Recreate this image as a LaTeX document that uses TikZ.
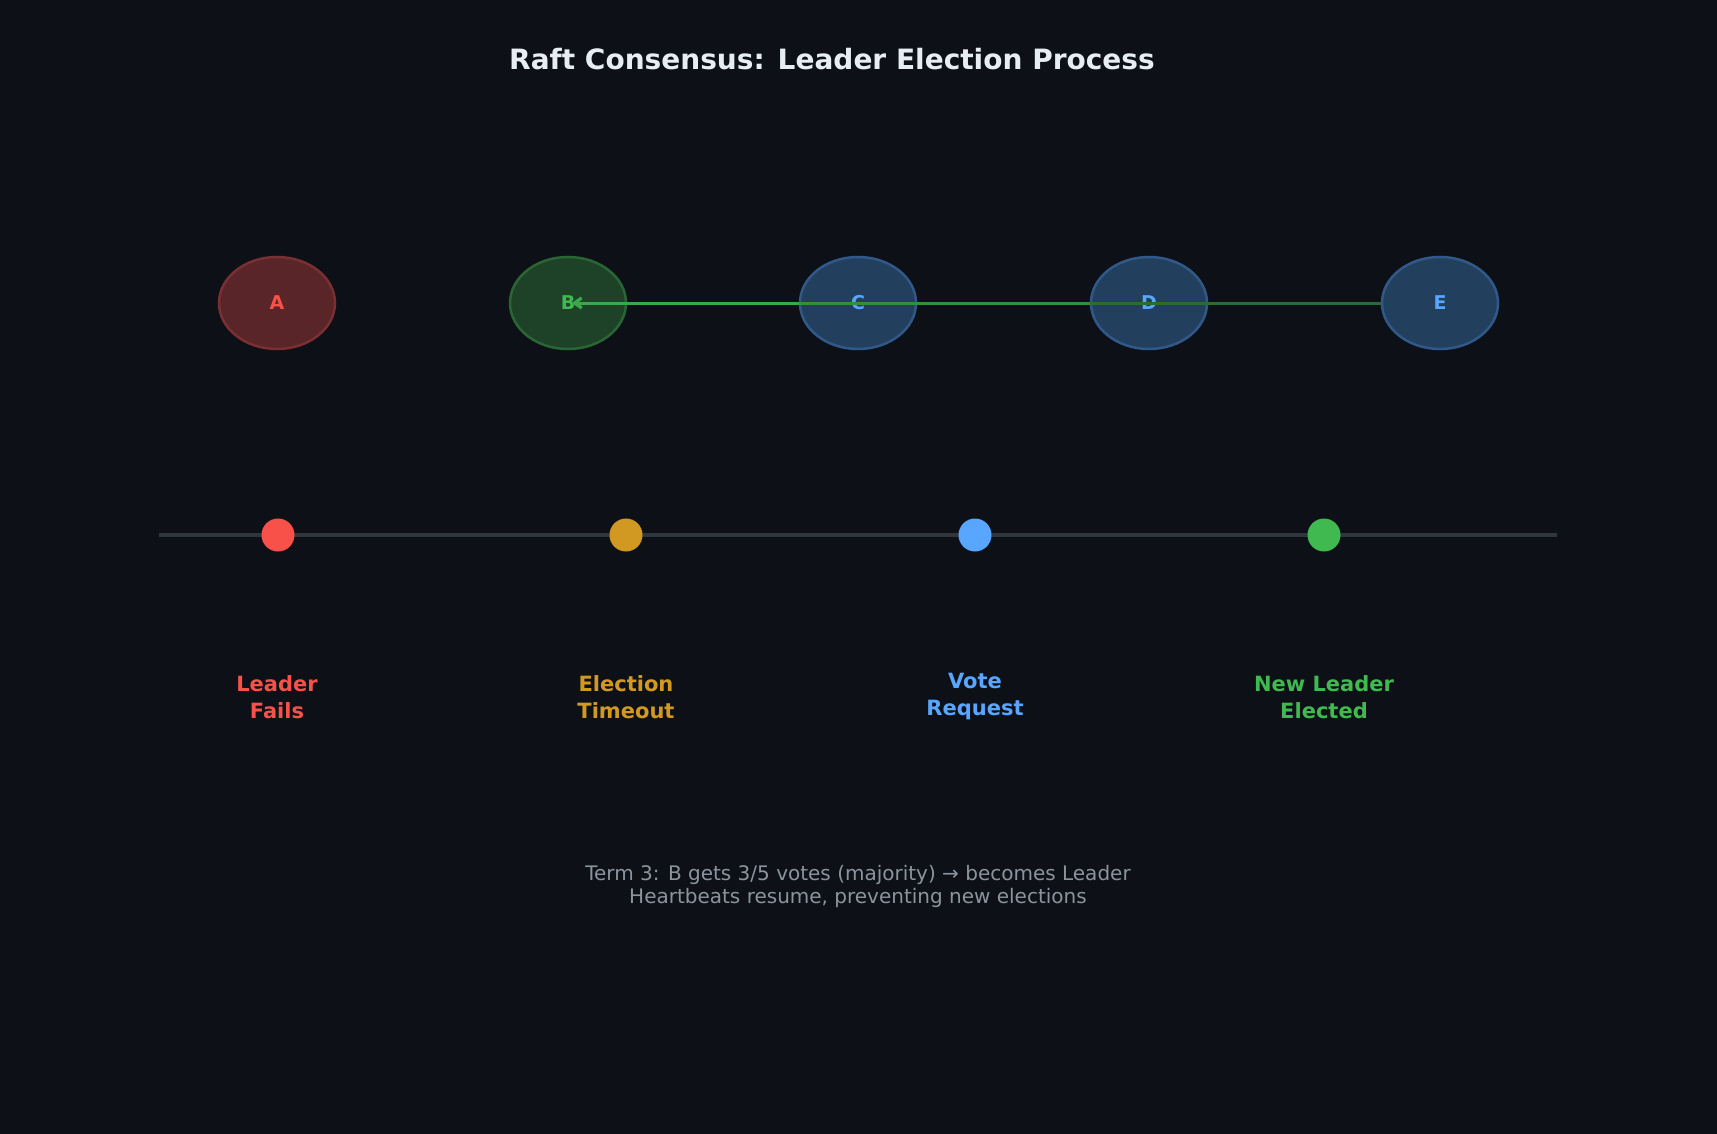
\documentclass[tikz,border=0pt]{standalone}
\usepackage{fontspec}
\setmainfont{DejaVu Sans}
\usetikzlibrary{shapes.geometric,arrows.meta}
\begin{document}
\begin{tikzpicture}[x=1pt,y=-1pt,
  srv/.style={ellipse,minimum width=116pt,minimum height=92pt,line width=2.5pt,inner sep=0pt,font=\bfseries\fontsize{19}{19}\selectfont},
  dot/.style={circle,minimum size=33pt,inner sep=0pt,draw=none},
  lab/.style={align=center,font=\bfseries\fontsize{21}{27}\selectfont},
  varr/.style={line width=3pt,-{Straight Barb[length=7pt,width=10pt]}}]
\definecolor{bg}{HTML}{0D1117}
\definecolor{cred}{HTML}{F85149}
\definecolor{cgreen}{HTML}{3FB950}
\definecolor{cblue}{HTML}{58A6FF}
\definecolor{corange}{HTML}{D29922}
\definecolor{redfill}{HTML}{5A2528}
\definecolor{redline}{HTML}{7A3032}
\definecolor{greenfill}{HTML}{1E4228}
\definecolor{greenline}{HTML}{2A6634}
\definecolor{bluefill}{HTML}{233F5E}
\definecolor{blueline}{HTML}{30598A}
\definecolor{tline}{HTML}{30363D}
\definecolor{cgray}{HTML}{8B949E}
\definecolor{ctitle}{HTML}{E6EDF3}
\fill[bg] (0,0) rectangle (1717,1134);
\useasboundingbox (0,0) rectangle (1717,1134);
\node[text=ctitle,font=\bfseries\fontsize{28}{28}\selectfont] (title) at (832,59) {Raft Consensus: Leader Election Process};
\node[srv,fill=redfill,draw=redline,text=cred] (A) at (277,303) {A};
\node[srv,fill=greenfill,draw=greenline,text=cgreen] (B) at (568,303) {B};
\node[srv,fill=bluefill,draw=blueline,text=cblue] (C) at (858,303) {C};
\node[srv,fill=bluefill,draw=blueline,text=cblue] (D) at (1149,303) {D};
\node[srv,fill=bluefill,draw=blueline,text=cblue] (E) at (1440,303) {E};
\coordinate (Bt) at (572,303);
\draw[varr,draw=cgreen!55!bg] (E.west) -- (Bt);
\draw[varr,draw=cgreen!75!bg] (D.west) -- (Bt);
\draw[varr,draw=cgreen!90!bg] (C.west) -- (Bt);
\coordinate (L1) at (159,535); \coordinate (L2) at (1557,535);
\draw[tline,line width=4pt] (L1) -- (L2);
\node[dot,fill=cred] (d1) at (278,535) {};
\node[dot,fill=corange] (d2) at (626,535) {};
\node[dot,fill=cblue] (d3) at (975,535) {};
\node[dot,fill=cgreen] (d4) at (1324,535) {};
\node[lab,text=cred] (l1) at (277,697) {Leader\\Fails};
\node[lab,text=corange] (l2) at (626,697) {Election\\Timeout};
\node[lab,text=cblue] (l3) at (975,697) {Vote\\Request};
\node[lab,text=cgreen] (l4) at (1324,697) {New Leader\\Elected};
\node[align=center,text=cgray,font=\fontsize{20}{23}\selectfont] (note) at (858,886) {Term 3: B gets 3/5 votes (majority) → becomes Leader\\Heartbeats resume, preventing new elections};
\end{tikzpicture}
\end{document}
